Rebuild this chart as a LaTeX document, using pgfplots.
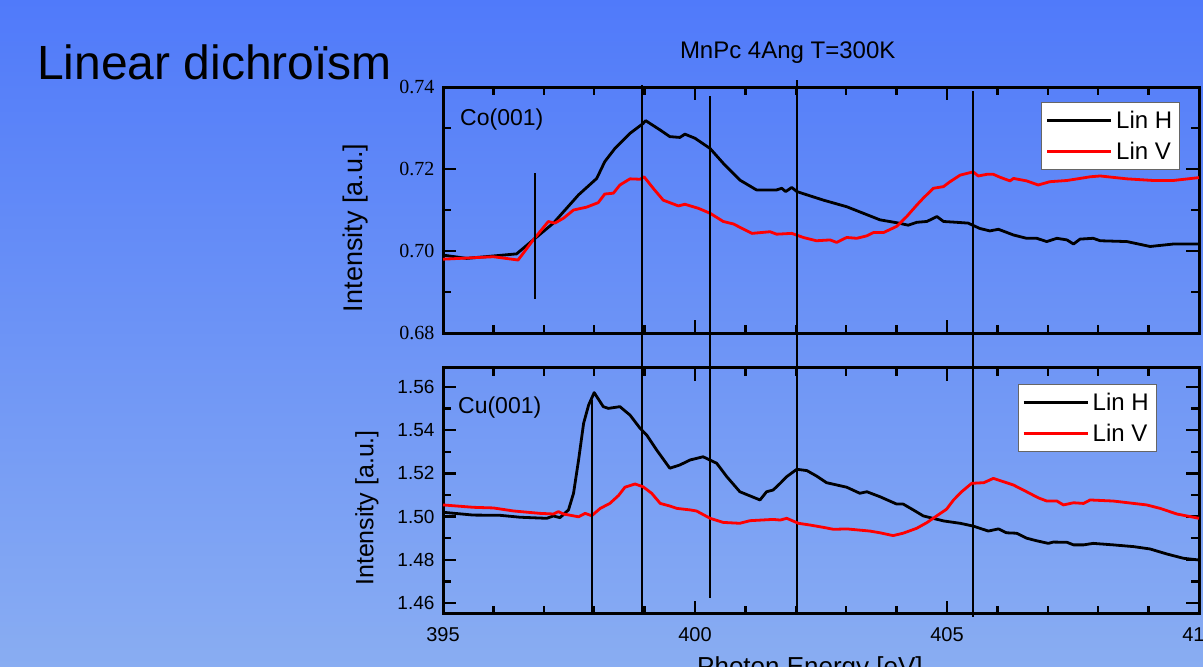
\documentclass[border=0pt]{standalone}
\usepackage{pgfplots}
\pgfplotsset{compat=1.18}
\usepackage{fontspec}
\setmainfont{Liberation Sans}
\newfontfamily\seriffont{Liberation Serif}
\definecolor{slidetop}{RGB}{80,122,250}
\definecolor{slidebottom}{RGB}{137,173,242}

\tikzset{peakline/.style={black, line width=1.6pt}}
\pgfplotsset{
  panel/.style={
    scale only axis, width=756pt, height=246pt,
    xmin=395, xmax=410,
    xtick={395,400,405,410}, minor x tick num=4,
    minor y tick num=1,
    tick pos=both, tick align=inside,
    axis line style={line width=3pt},
    major tick length=13pt, minor tick length=8pt,
    tick style={black, line width=2.5pt},
    clip=false,
    /pgf/number format/assume math mode=true,
    legend cell align=left,
    legend image code/.code={%
      \draw[##1] (0pt,0pt) -- (57pt,0pt);
      \path (0pt,0pt) -- (64pt,0pt);},
    legend style={draw=black!60, line width=0.8pt, fill=white,
      font=\fontsize{24}{27}\selectfont, anchor=north east,
      inner xsep=4pt, inner ysep=5pt, row sep=5pt,
      nodes={inner sep=3.5pt}},
  },
  linh/.style={black, line width=2.8pt, line join=round},
  linv/.style={red, line width=2.8pt, line join=round},
}

\begin{document}
\begin{tikzpicture}
\useasboundingbox (0,0) rectangle (1203pt,667pt);
\clip (0,0) rectangle (1203pt,667pt);
\shade[top color=slidetop, bottom color=slidebottom] (0,0) rectangle (1203pt,667pt);
\node[anchor=base west, inner sep=0pt, font=\fontsize{48}{56}\selectfont] at (37pt,587pt) {Linear dichroïsm};

% Co(001) substrate
\begin{axis}[panel,
  at={(443pt,334pt)}, anchor=south west,
  ymin=0.68, ymax=0.74,
  ytick={0.68,0.70,0.72,0.74},
  xticklabels={},
  y tick label style={/pgf/number format/.cd, fixed, fixed zerofill, precision=2,
    /tikz/.cd, font=\seriffont\fontsize{20}{24}\selectfont, xshift=-5pt},
  legend style={at={(0.975,0.939)}},
]
\addplot[linh] coordinates {
(395.00,0.6990) (395.47,0.6982) (396.46,0.6993) (396.79,0.7027) (397.19,0.7068)
(397.69,0.7137) (398.05,0.7177) (398.21,0.7218) (398.41,0.7250) (398.71,0.7287)
(398.97,0.7311) (399.02,0.7318) (399.31,0.7295) (399.50,0.7279) (399.70,0.7277)
(399.80,0.7285) (400.00,0.7275) (400.30,0.7250) (400.56,0.7214) (400.89,0.7173)
(401.22,0.7149) (401.62,0.7149) (401.72,0.7153) (401.80,0.7145) (401.92,0.7155)
(402.02,0.7145) (402.22,0.7137) (402.55,0.7124) (403.01,0.7108) (403.34,0.7092)
(403.67,0.7076) (404.00,0.7069) (404.23,0.7063) (404.40,0.7070) (404.60,0.7072)
(404.80,0.7084) (404.93,0.7072) (405.19,0.7070) (405.42,0.7068) (405.65,0.7055)
(405.85,0.7049) (406.02,0.7053) (406.32,0.7039) (406.58,0.7031) (406.78,0.7031)
(406.98,0.7023) (407.18,0.7031) (407.38,0.7027) (407.51,0.7017) (407.64,0.7029)
(407.90,0.7031) (408.04,0.7025) (408.57,0.7023) (409.03,0.7011) (409.49,0.7017)
(410.00,0.7017)
};
\addlegendentry{Lin H}
\addplot[linv] coordinates {
(395.00,0.6980) (396.00,0.6986) (396.49,0.6978) (396.79,0.7027) (397.09,0.7072)
(397.22,0.7068) (397.39,0.7080) (397.59,0.7100) (397.85,0.7107) (398.08,0.7118)
(398.21,0.7139) (398.38,0.7141) (398.51,0.7161) (398.71,0.7176) (398.91,0.7175)
(398.99,0.7181) (399.17,0.7153) (399.37,0.7124) (399.67,0.7110) (399.80,0.7114)
(400.07,0.7104) (400.30,0.7092) (400.56,0.7072) (400.76,0.7066) (401.13,0.7043)
(401.49,0.7047) (401.62,0.7041) (401.92,0.7043) (402.15,0.7033) (402.41,0.7025)
(402.68,0.7027) (402.81,0.7021) (403.01,0.7033) (403.21,0.7031) (403.41,0.7037)
(403.54,0.7045) (403.74,0.7045) (404.00,0.7060) (404.20,0.7084) (404.40,0.7112)
(404.53,0.7129) (404.73,0.7153) (404.93,0.7157) (405.06,0.7169) (405.26,0.7185)
(405.52,0.7193) (405.62,0.7183) (405.79,0.7187) (405.92,0.7187) (406.05,0.7180)
(406.25,0.7171) (406.32,0.7177) (406.58,0.7171) (406.81,0.7161) (407.04,0.7169)
(407.38,0.7172) (407.64,0.7177) (407.84,0.7181) (408.04,0.7183) (408.57,0.7176)
(409.09,0.7172) (409.49,0.7172) (410.00,0.7179)
};
\addlegendentry{Lin V}
\node[anchor=base west, inner sep=0pt, font=\fontsize{23}{26}\selectfont]
  at (rel axis cs:0.0225,0.8455) {Co(001)};
\node[anchor=base, inner sep=0pt, font=\fontsize{24}{28}\selectfont]
  at (rel axis cs:0.456,1.115) {MnPc 4Ang T=300K};
\node[rotate=90, anchor=center, inner sep=0pt, font=\fontsize{27}{31}\selectfont]
  at (rel axis cs:-0.116,0.427) {Intensity [a.u.]};
% peak markers
\draw[peakline] (axis cs:396.83,0.7190) -- (axis cs:396.83,0.6883);
\draw[peakline] (axis cs:398.95,0.7405) -- (axis cs:398.95,0.6115);
\draw[peakline] (axis cs:400.30,0.7378) -- (axis cs:400.30,0.6154);
\draw[peakline] (axis cs:402.02,0.7417) -- (axis cs:402.02,0.6115);
\draw[peakline] (axis cs:405.52,0.7390) -- (axis cs:405.52,0.6107);
\end{axis}

% Cu(001) substrate
\begin{axis}[panel,
  at={(443pt,53pt)}, anchor=south west,
  ymin=1.4549, ymax=1.5688,
  ytick={1.46,1.48,1.50,1.52,1.54,1.56},
  y tick label style={/pgf/number format/.cd, fixed, fixed zerofill, precision=2,
    /tikz/.cd, font=\fontsize{19}{23}\selectfont, xshift=-5pt},
  x tick label style={font=\fontsize{20}{24}\selectfont, yshift=-10pt},
  legend style={at={(0.944,0.935)}},
]
\addplot[linh] coordinates {
(395.00,1.5020) (395.60,1.5007) (396.13,1.5006) (396.53,1.4997) (397.06,1.4992)
(397.19,1.5003) (397.32,1.4995) (397.49,1.5031) (397.59,1.5108) (397.69,1.5262)
(397.79,1.5432) (397.89,1.5517) (398.00,1.5574) (398.18,1.5509) (398.28,1.5501)
(398.51,1.5509) (398.71,1.5470) (398.91,1.5409) (399.04,1.5378) (399.24,1.5308)
(399.50,1.5224) (399.70,1.5239) (399.90,1.5262) (400.16,1.5277) (400.43,1.5247)
(400.63,1.5185) (400.89,1.5115) (401.29,1.5077) (401.42,1.5115) (401.55,1.5123)
(401.69,1.5154) (401.82,1.5185) (402.02,1.5219) (402.22,1.5213) (402.41,1.5188)
(402.61,1.5157) (403.01,1.5136) (403.27,1.5108) (403.41,1.5115) (403.67,1.5092)
(404.00,1.5058) (404.13,1.5058) (404.33,1.5031) (404.53,1.5003) (404.93,1.4980)
(405.26,1.4969) (405.52,1.4956) (405.82,1.4933) (406.02,1.4943) (406.18,1.4925)
(406.38,1.4923) (406.58,1.4900) (406.78,1.4888) (407.01,1.4876) (407.11,1.4882)
(407.38,1.4881) (407.51,1.4869) (407.71,1.4869) (407.90,1.4876) (408.30,1.4869)
(408.70,1.4861) (409.03,1.4850) (409.36,1.4827) (409.69,1.4807) (410.00,1.4799)
};
\addlegendentry{Lin H}
\addplot[linv] coordinates {
(395.00,1.5054) (395.60,1.5043) (396.00,1.5040) (396.40,1.5026) (396.92,1.5015)
(397.19,1.5012) (397.29,1.5023) (397.39,1.5012) (397.69,1.4999) (397.82,1.5015)
(397.95,1.5004) (398.12,1.5038) (398.31,1.5061) (398.48,1.5097) (398.61,1.5136)
(398.81,1.5151) (398.97,1.5138) (399.14,1.5108) (399.31,1.5061) (399.50,1.5049)
(399.64,1.5038) (399.90,1.5031) (400.03,1.5026) (400.30,1.4992) (400.56,1.4973)
(400.89,1.4969) (401.09,1.4981) (401.55,1.4987) (401.69,1.4984) (401.82,1.4992)
(402.05,1.4969) (402.28,1.4961) (402.55,1.4950) (402.75,1.4941) (403.01,1.4943)
(403.47,1.4933) (403.67,1.4925) (403.93,1.4912) (404.13,1.4923) (404.40,1.4946)
(404.60,1.4972) (404.80,1.5004) (404.99,1.5034) (405.13,1.5077) (405.29,1.5115)
(405.49,1.5154) (405.73,1.5157) (405.92,1.5177) (406.32,1.5146) (406.58,1.5115)
(406.81,1.5087) (406.98,1.5072) (407.18,1.5072) (407.31,1.5054) (407.51,1.5064)
(407.71,1.5061) (407.84,1.5077) (408.30,1.5072) (408.96,1.5054) (409.23,1.5038)
(409.56,1.5012) (410.00,1.4992)
};
\addlegendentry{Lin V}
\node[anchor=base west, inner sep=0pt, font=\fontsize{23}{26}\selectfont]
  at (rel axis cs:0.0198,0.817) {Cu(001)};
\node[rotate=90, anchor=center, inner sep=0pt, font=\fontsize{25}{29}\selectfont]
  at (rel axis cs:-0.1005,0.431) {Intensity [a.u.]};
\node[anchor=base, inner sep=0pt, font=\fontsize{26}{30}\selectfont]
  at (rel axis cs:0.4854,-0.248) {Photon Energy [eV]};
\draw[peakline] (axis cs:397.96,1.5540) -- (axis cs:397.96,1.4549);
\end{axis}
\end{tikzpicture}
\end{document}
